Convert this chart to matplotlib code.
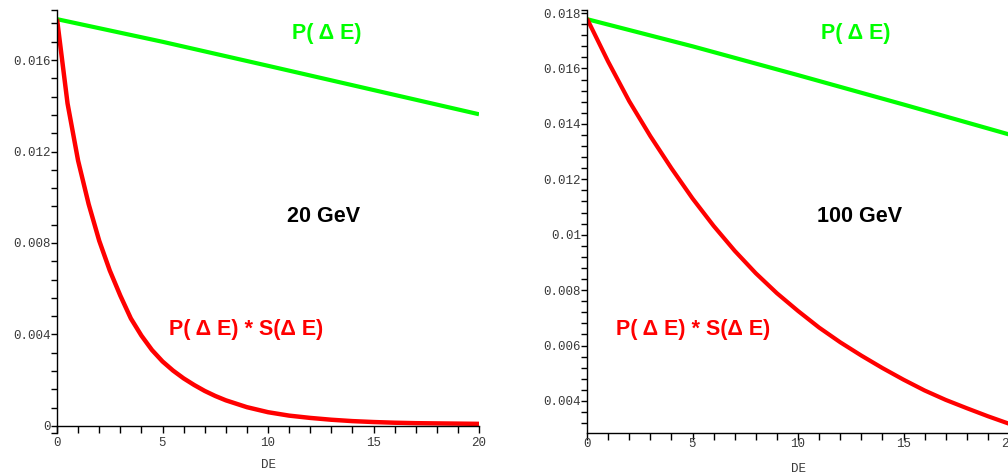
import numpy as np
import matplotlib
matplotlib.use("Agg")
import matplotlib.pyplot as plt
from matplotlib.ticker import FixedLocator, FixedFormatter

# ---------------- data ----------------
# left panel (20 GeV)
x_left_red = [0, 0.5, 1, 1.5, 2, 2.5, 3, 3.5, 4, 4.5, 5, 5.5, 6, 6.5, 7, 7.5,
              8, 9, 10, 11, 12, 13, 14, 15, 16, 17, 18, 19, 20]
y_left_red = [0.0178, 0.0141, 0.0116, 0.0097, 0.0081, 0.0068, 0.0057, 0.0047,
              0.00395, 0.00332, 0.00282, 0.00242, 0.00208, 0.00179, 0.00153,
              0.00131, 0.00112, 0.00082, 0.00060, 0.00045, 0.00035, 0.00027,
              0.00021, 0.00017, 0.00014, 0.00012, 0.00011, 0.00010, 0.00009]
x_left_green = [0, 5, 10, 15, 20]
y_left_green = [0.01779, 0.01680, 0.01575, 0.01469, 0.01363]

# right panel (100 GeV)
x_right_red = list(range(0, 21))
y_right_red = [0.01780, 0.01625, 0.01482, 0.01356, 0.01240, 0.01131, 0.01032,
               0.00942, 0.00861, 0.00789, 0.00725, 0.00665, 0.00612, 0.00564,
               0.00519, 0.00477, 0.00438, 0.00404, 0.00374, 0.00345, 0.00318]
x_right_green = [0, 5, 10, 15, 20]
y_right_green = [0.01778, 0.01680, 0.01576, 0.01470, 0.01362]

x_ticks = [0, 5, 10, 15, 20]
x_ticklabels = ["0", "5", "10", "15", "20"]
left_yticks = [0, 0.004, 0.008, 0.012, 0.016]
left_yticklabels = ["0", "0.004", "0.008", "0.012", "0.016"]
right_yticks = [0.004, 0.006, 0.008, 0.010, 0.012, 0.014, 0.016, 0.018]
right_yticklabels = ["0.004", "0.006", "0.008", "0.01", "0.012", "0.014",
                     "0.016", "0.018"]

label_green = "P( \u0394 E)"
label_red = "P( \u0394 E) * S(\u0394 E)"
energy_left = "20 GeV"
energy_right = "100 GeV"
xlabel = "DE"

# ---------------- figure ----------------
W, H = 1008, 476
fig = plt.figure(figsize=(W / 100, H / 100), dpi=100)
fig.patch.set_facecolor("white")

GREEN = "#00ff00"
RED = "#ff0000"
TICKCOL = "#3a3a3a"
mono = "Liberation Mono"


def style_axes(ax, xpad):
    for s in ("top", "right"):
        ax.spines[s].set_visible(False)
    for s in ("left", "bottom"):
        ax.spines[s].set_linewidth(1.0)
        ax.spines[s].set_color("black")
    ax.set_xlim(0, 20)
    ax.xaxis.set_major_locator(FixedLocator(x_ticks))
    ax.xaxis.set_major_formatter(FixedFormatter(x_ticklabels))
    ax.xaxis.set_minor_locator(FixedLocator(list(range(0, 21))))
    ax.tick_params(axis="x", which="both", direction="out", length=5,
                   width=1.0, color="black", pad=xpad)
    ax.tick_params(axis="y", which="both", direction="out", length=4.5,
                   width=1.0, color="black", pad=0)
    ax.tick_params(axis="both", labelsize=9, labelcolor=TICKCOL)
    for lab in ax.get_xticklabels() + ax.get_yticklabels():
        lab.set_family(mono)
    ax.set_facecolor("none")


# left panel
axL = fig.add_axes([57 / W, 43 / H, 422 / W, 423 / H])
axL.plot(x_left_green, y_left_green, color=GREEN, lw=3, solid_capstyle="butt")
axL.plot(x_left_red, y_left_red, color=RED, lw=3.2, solid_capstyle="butt",
         solid_joinstyle="round")
ylo, yhi = -0.00031, 0.01819
axL.set_ylim(ylo, yhi)
axL.spines["bottom"].set_position(("data", 0))
axL.yaxis.set_major_locator(FixedLocator(left_yticks))
axL.yaxis.set_major_formatter(FixedFormatter(left_yticklabels))
axL.yaxis.set_minor_locator(FixedLocator(list(np.arange(0, 0.0177, 0.0008)) + [ylo, yhi]))
style_axes(axL, xpad=3)
axL.set_xlabel(xlabel, family=mono, fontsize=9, color=TICKCOL, labelpad=7)

# right panel
axR = fig.add_axes([587 / W, 43.3 / H, 422 / W, 422.7 / H])
axR.plot(x_right_green, y_right_green, color=GREEN, lw=3, solid_capstyle="butt")
axR.plot(x_right_red, y_right_red, color=RED, lw=3, solid_capstyle="butt",
         solid_joinstyle="round")
rlo, rhi = 0.002856, 0.01811
axR.set_ylim(rlo, rhi)
axR.yaxis.set_major_locator(FixedLocator(right_yticks))
axR.yaxis.set_major_formatter(FixedFormatter(right_yticklabels))
axR.yaxis.set_minor_locator(FixedLocator(list(np.arange(0.0032, 0.0181, 0.0004)) + [rhi]))
style_axes(axR, xpad=-1)
axR.set_xlabel(xlabel, family=mono, fontsize=9, color=TICKCOL, labelpad=9.5)

# annotations (figure pixel positions)
def ftext(px, py, s, color, size=15.5):
    fig.text(px / W, 1 - py / H, s, color=color, fontsize=size,
             fontweight="bold", family="Liberation Sans",
             ha="center", va="center")

ftext(327, 33, label_green, GREEN)
ftext(246, 330, label_red, RED)
ftext(324, 217, energy_left, "black")
ftext(856, 34, label_green, GREEN)
ftext(693, 330, label_red, RED)
ftext(860, 217, energy_right, "black")

fig.savefig("out.png", dpi=100, facecolor="white")
